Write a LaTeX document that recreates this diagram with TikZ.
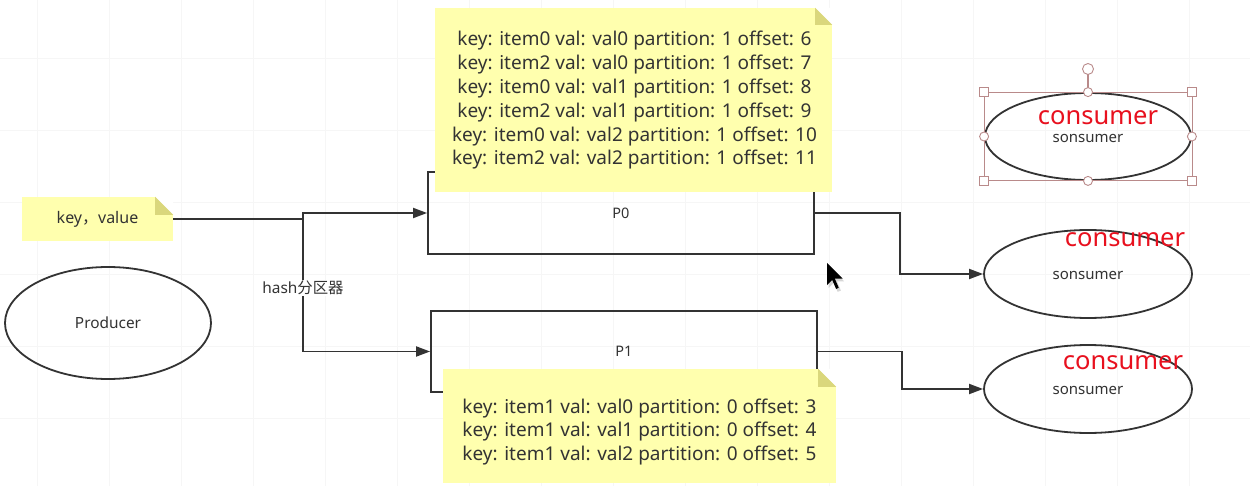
\documentclass[tikz,border=0pt]{standalone}
\usepackage{fontspec}
\setmainfont{Noto Sans}
\newfontfamily\cjk{Noto Sans CJK SC}
\usetikzlibrary{arrows.meta,shapes.geometric}
\definecolor{ink}{HTML}{333333}
\definecolor{notefill}{HTML}{FFFFAE}
\definecolor{notefold}{HTML}{DAD77C}
\definecolor{gridline}{HTML}{F6F6F6}
\definecolor{selbox}{HTML}{B98A8A}
\definecolor{hilite}{HTML}{E8101E}
\tikzset{
  wire/.style={draw=ink, line width=1.8pt},
  link/.style={wire, -{Triangle[length=14pt,width=10pt]}},
  partbox/.style={rectangle, draw=ink, line width=1.8pt, inner sep=0pt, font=\fontsize{14.5}{17}\selectfont, text=ink},
  stick/.style={rectangle, fill=notefill, inner sep=0pt},
  notetext/.style={inner sep=0pt, text=ink, align=center, font=\fontsize{19}{23.8}\selectfont},
  oval/.style={ellipse, draw=ink, line width=1.8pt, inner sep=0pt, text=ink},
  ovaltext/.style={text=ink, font=\fontsize{15}{17}\selectfont, inner sep=0pt},
  redtag/.style={font=\fontsize{25.5}{28}\selectfont, text=hilite, inner sep=0pt},
  handle/.style={draw=selbox, fill=white, line width=0.9pt},
}
\begin{document}
\begin{tikzpicture}[x=1pt,y=-1pt]
\useasboundingbox (0,0) rectangle (1250,486);
\fill[white] (0,0) rectangle (1250,486);
% faint canvas grid
\foreach \gx in {37,109,...,1250} \draw[gridline, line width=0.7pt] (\gx,0) -- (\gx,486);
\foreach \gy in {58,130,...,486} \draw[gridline, line width=0.7pt] (0,\gy) -- (1250,\gy);

% producer
\node[oval, minimum width=206pt, minimum height=112pt, font=\fontsize{15.4}{18}\selectfont] (prod) at (108,323) {Producer};

% partitions
\node[partbox, minimum width=386pt, minimum height=82pt] (P0) at (621,213) {P0};
\node[partbox, minimum width=386pt, minimum height=81pt] (P1) at (624,351.5) {P1};

% record note for partition 1
\node[stick, minimum width=397pt, minimum height=184pt] (nTop) at (633.5,100) {};
\fill[white] (nTop.north east) -- ++(-17,0) -- ++(17,17) -- cycle;
\fill[notefold] (nTop.north east) ++(-17,0) -- ++(0,17) -- ++(17,0) -- cycle;
\node[notetext] (nTopText) at (634.5,100.5)
  {key: item0 val: val0 partition: 1 offset: 6\\
   key: item2 val: val0 partition: 1 offset: 7\\
   key: item0 val: val1 partition: 1 offset: 8\\
   key: item2 val: val1 partition: 1 offset: 9\\
   key: item0 val: val2 partition: 1 offset: 10\\
   key: item2 val: val2 partition: 1 offset: 11};

% record note for partition 0
\node[stick, minimum width=393pt, minimum height=114pt] (nBot) at (639.5,426) {};
\fill[white] (nBot.north east) -- ++(-18,0) -- ++(18,18) -- cycle;
\fill[notefold] (nBot.north east) ++(-18,0) -- ++(0,18) -- ++(18,0) -- cycle;
\node[notetext] (nBotText) at (639.5,432)
  {key: item1 val: val0 partition: 0 offset: 3\\
   key: item1 val: val1 partition: 0 offset: 4\\
   key: item1 val: val2 partition: 0 offset: 5};

% message note
\node[stick, minimum width=151pt, minimum height=44pt, text=ink, font=\fontsize{16}{19}\selectfont] (kv) at (97.5,219) {key{\cjk ，}value};
\fill[white] (kv.north east) -- ++(-18,0) -- ++(18,18) -- cycle;
\fill[notefold] (kv.north east) ++(-18,0) -- ++(0,18) -- ++(18,0) -- cycle;

% partitioner routing
\coordinate (hub) at (303,219);
\draw[wire] (kv.east) -- (hub);
\draw[link] (hub) |- (P0.west);
\draw[link] (hub) |- (P1.west);
\node[fill=white, inner sep=1pt, text=ink, font=\fontsize{15.4}{18}\selectfont] (hashlbl) at (303,288) {hash{\cjk 分区器}};

% consumers
\node[oval, minimum width=206pt, minimum height=87pt] (c1) at (1088,136.5) {};
\node[oval, minimum width=208pt, minimum height=88pt] (c2) at (1088,274) {};
\node[oval, minimum width=208pt, minimum height=88pt] (c3) at (1088,389) {};
\node[ovaltext] (s1) at (1088,138.5) {sonsumer};
\node[ovaltext] (s2) at (1088,275) {sonsumer};
\node[ovaltext] (s3) at (1088,390) {sonsumer};

\draw[link] (P0.east) -- ++(85,0) |- (c2.west);
\draw[link] (P1.east) -- ++(84,0) |- (c3.west);

% selection frame on the first consumer
\coordinate (fNW) at (c1.west |- c1.north);
\coordinate (fNE) at (c1.east |- c1.north);
\coordinate (fSW) at (c1.west |- c1.south);
\coordinate (fSE) at (c1.east |- c1.south);
\draw[selbox, line width=0.8pt] (fNW) rectangle (fSE);
\draw[selbox, line width=1.2pt] (c1.north) -- ++(0,-19);
\draw[handle] (1088,69) circle (5.5pt);
\foreach \a in {fNW, fNE, fSW, fSE}
  \draw[handle] (\a) ++(-4.5,-4.5) rectangle ++(9,9);
\foreach \a in {north, south, east, west}
  \draw[handle] (c1.\a) circle (4.5pt);

\node[redtag] (r1) at (1098,118) {consumer};
\node[redtag] (r2) at (1125,240) {consumer};
\node[redtag] (r3) at (1123,363) {consumer};

% mouse pointer
\begin{scope}[shift={(827,263)}, scale=1.3]
  \fill[gray!45, opacity=0.7] (1.2,1.2) -- (1.2,19.2) -- (5.2,15.2) -- (8.2,22.2) -- (10.7,21.2) -- (7.7,14.2) -- (13.2,14.2) -- cycle;
  \fill[black] (0,0) -- (0,17) -- (4,13) -- (7,20) -- (9,19) -- (6,12) -- (12,12) -- cycle;
\end{scope}
\end{tikzpicture}
\end{document}
